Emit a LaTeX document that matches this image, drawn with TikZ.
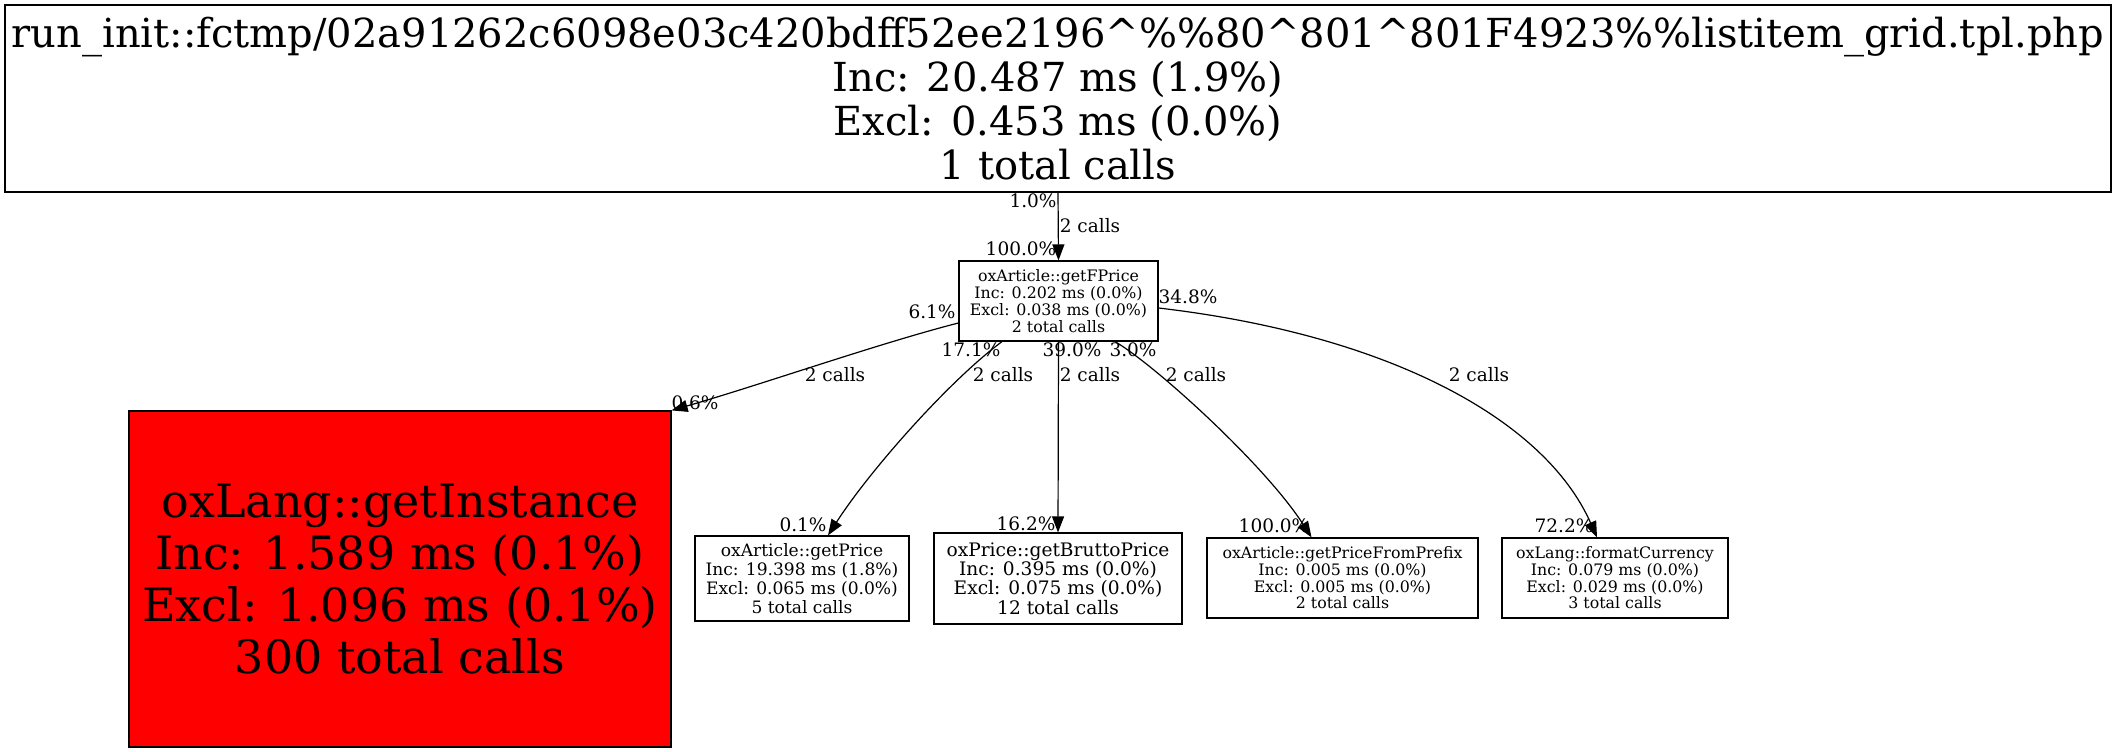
\documentclass[tikz,border=0pt]{standalone}
\usepackage{fontspec}
\setmainfont{DejaVu Serif}
\usetikzlibrary{arrows.meta}
\begin{document}
\begin{tikzpicture}[x=1pt,y=-1pt,
  box/.style={draw=black,line width=1.2pt,rectangle,inner sep=0pt,align=center},
  lbl/.style={font=\fontsize{18.5}{20}\selectfont,inner sep=0pt},
  conn/.style={line width=1.2pt,-{Triangle[length=16pt,width=12pt]}}]
\useasboundingbox (0,0) rectangle (2117,752);
% nodes
\node[box,minimum width=2106pt,minimum height=187pt,font=\fontsize{40}{44}\selectfont] (top) at (1058,98.5)
 {run\_init::fctmp/02a91262c6098e03c420bdff52ee2196\textasciicircum\%\%80\textasciicircum801\textasciicircum801F4923\%\%listitem\_grid.tpl.php\\Inc: 20.487 ms (1.9\%)\\Excl: 0.453 ms (0.0\%)\\1 total calls};
\node[box,minimum width=199pt,minimum height=80pt,font=\fontsize{15.8}{17}\selectfont] (fp) at (1058.5,301)
 {oxArticle::getFPrice\\Inc: 0.202 ms (0.0\%)\\Excl: 0.038 ms (0.0\%)\\2 total calls};
\node[box,fill=red,minimum width=542pt,minimum height=336pt,font=\fontsize{46}{52}\selectfont] (red) at (400,579)
 {oxLang::getInstance\\Inc: 1.589 ms (0.1\%)\\Excl: 1.096 ms (0.1\%)\\300 total calls};
\node[box,minimum width=214pt,minimum height=85pt,font=\fontsize{17.1}{18.9}\selectfont] (gp) at (802,578.5)
 {oxArticle::getPrice\\Inc: 19.398 ms (1.8\%)\\Excl: 0.065 ms (0.0\%)\\5 total calls};
\node[box,minimum width=248pt,minimum height=91pt,font=\fontsize{18.6}{19.3}\selectfont] (bp) at (1058,578.5)
 {oxPrice::getBruttoPrice\\Inc: 0.395 ms (0.0\%)\\Excl: 0.075 ms (0.0\%)\\12 total calls};
\node[box,minimum width=271pt,minimum height=80pt,font=\fontsize{15.8}{16.7}\selectfont] (pf) at (1342.5,578)
 {oxArticle::getPriceFromPrefix\\Inc: 0.005 ms (0.0\%)\\Excl: 0.005 ms (0.0\%)\\2 total calls};
\node[box,minimum width=226pt,minimum height=80pt,font=\fontsize{15.8}{16.7}\selectfont] (fc) at (1615,578)
 {oxLang::formatCurrency\\Inc: 0.079 ms (0.0\%)\\Excl: 0.029 ms (0.0\%)\\3 total calls};
% connectors
\draw[conn] (top.south) -- (fp.north);
\draw[conn] ([yshift=-22pt]fp.west) .. controls (880,343) and (760,385) .. (red.north east);
\draw[conn] ([xshift=-56.5pt]fp.south) .. controls (950,380) and (870,470) .. ([xshift=26pt]gp.north);
\draw[conn] (fp.south) -- (bp.north);
\draw[conn] ([xshift=56.5pt]fp.south) .. controls (1155,365) and (1265,465) .. ([xshift=-31pt]pf.north);
\draw[conn] ([yshift=-7pt]fp.east) .. controls (1390,335) and (1545,420) .. ([xshift=-18pt]fc.north);
% labels
\node[lbl] (l1a) at (1033,201) {1.0\%};
\node[lbl] (l1b) at (1090,226) {2 calls};
\node[lbl] (l1c) at (1021,249) {100.0\%};
\node[lbl] (l2a) at (932,312) {6.1\%};
\node[lbl] (l2b) at (835,375) {2 calls};
\node[lbl] (l2c) at (695,403) {0.6\%};
\node[lbl] (l3a) at (971,350) {17.1\%};
\node[lbl] (l3b) at (1003,375) {2 calls};
\node[lbl] (l3c) at (803,525) {0.1\%};
\node[lbl] (l4a) at (1072,350) {39.0\%};
\node[lbl] (l4b) at (1090,375) {2 calls};
\node[lbl] (l4c) at (1026,524) {16.2\%};
\node[lbl] (l5a) at (1133,350) {3.0\%};
\node[lbl] (l5b) at (1196,375) {2 calls};
\node[lbl] (l5c) at (1274,526) {100.0\%};
\node[lbl] (l6a) at (1188,297) {34.8\%};
\node[lbl] (l6b) at (1479,375) {2 calls};
\node[lbl] (l6c) at (1564,526) {72.2\%};
\end{tikzpicture}
\end{document}
